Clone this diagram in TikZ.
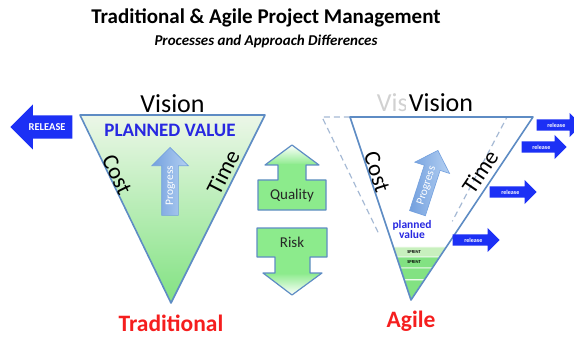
\documentclass[tikz,border=0pt]{standalone}
\usepackage{fontspec}
\setmainfont{Carlito}
\usetikzlibrary{positioning,shapes.arrows,calc}

\definecolor{edgeblue}{RGB}{94,140,196}
\definecolor{lightgreen}{RGB}{236,247,232}
\definecolor{midgreen}{RGB}{130,226,130}
\definecolor{paleband}{RGB}{200,240,190}
\definecolor{boxgreen}{RGB}{140,235,140}
\definecolor{releaseblue}{RGB}{28,48,245}
\definecolor{valueblue}{RGB}{40,40,225}
\definecolor{progblue}{RGB}{115,160,222}
\definecolor{proglight}{RGB}{180,208,242}
\definecolor{labelred}{RGB}{245,30,30}
\definecolor{ghostline}{RGB}{165,185,212}

\begin{document}
\begin{tikzpicture}[x=1pt,y=-1pt,
    tri/.style={draw=edgeblue, line width=1.6pt, line join=round},
    edgetext/.style={inner sep=1pt, font=\fontsize{23}{23}\selectfont},
    visiontext/.style={inner sep=1pt, font=\fontsize{26}{26}\selectfont},
    methodlabel/.style={inner sep=1pt, text=labelred, font=\fontsize{23.5}{24}\selectfont\bfseries},
    releasearrow/.style={single arrow, fill=releaseblue, text=white,
        font=\fontsize{6}{6}\selectfont\bfseries, single arrow head extend=6.5pt,
        inner ysep=3pt, inner xsep=2pt, text height=5pt, text depth=0pt,
        minimum height=45pt, anchor=tip},
    progressarrow/.style={single arrow, draw=progblue, line width=0.6pt,
        left color=progblue, right color=proglight, text=white,
        font=\fontsize{11.5}{11.5}\selectfont, single arrow head extend=10pt,
        inner ysep=3pt, inner xsep=2pt, text height=8pt, text depth=2pt,
        minimum height=68pt, anchor=tip},
    boxtext/.style={inner sep=1pt, text=black!85, font=\fontsize{15}{15}\selectfont}]

\useasboundingbox (0,0) rectangle (574,337);

\node[font=\fontsize{21}{24}\selectfont\bfseries] (title) at (266,18) {Traditional \& Agile Project Management};
\node[below=1pt of title, font=\fontsize{15}{16}\selectfont\bfseries\itshape] (subtitle) {Processes and Approach Differences};

\coordinate (tTL) at (80,115);
\coordinate (tTR) at (265,115);
\coordinate (tApex) at (171,303);
\coordinate (tTop) at ($(tTL)!0.5!(tTR)$);

\draw[tri, top color=lightgreen, bottom color=midgreen] (tTL) -- (tTR) -- (tApex) -- cycle;
\node[visiontext, above=1pt of tTop] (tradvision) {Vision};
\node[text=valueblue, font=\fontsize{19}{19}\selectfont\bfseries] (plannedvalue) at (170,130) {PLANNED VALUE};
\node[edgetext, rotate=-64] (tradcost) at (117,175) {Cost};
\node[edgetext, rotate=63] (tradtime) at (223,172) {Time};
\node[progressarrow, rotate=90] (tradprogress) at (170,147) {Progress};
\node[methodlabel, below=11pt of tApex] (traditional) {Traditional};

\node[releasearrow, shape border rotate=180, font=\fontsize{10.5}{10.5}\selectfont\bfseries,
    single arrow head extend=11pt, inner ysep=7.5pt, text height=8pt, minimum height=62pt] (bigrelease) at (10,127) {RELEASE};

\shade[top color=white, bottom color=boxgreen] (292,145) -- (319,165) -- (265,165) -- cycle;
\fill[boxgreen] (306,164) -- (306,180) -- (326,180) -- (326,210) -- (258,210) -- (258,180) -- (278,180) -- (278,164) -- cycle;
\draw[draw=edgeblue, line width=1.2pt, line join=round] (292,145) -- (319,165) -- (306,165) -- (306,180) -- (326,180) -- (326,210)
    -- (258,210) -- (258,180) -- (278,180) -- (278,165) -- (265,165) -- cycle;
\node[boxtext] (quality) at (292,196) {Quality};

\shade[top color=boxgreen, bottom color=white] (263,273) -- (322,273) -- (292,295) -- cycle;
\fill[boxgreen] (257,228) -- (327,228) -- (327,257) -- (310,257) -- (310,274) -- (275,274) -- (275,257) -- (257,257) -- cycle;
\draw[draw=edgeblue, line width=1.2pt, line join=round] (257,228) -- (327,228) -- (327,257) -- (310,257) -- (310,273) -- (322,273)
    -- (292,295) -- (263,273) -- (275,273) -- (275,257) -- (257,257) -- cycle;
\node[boxtext] (risk) at (292,242) {Risk};

\coordinate (aTL) at (350,117);
\coordinate (aTR) at (533,117);
\coordinate (aApex) at (411,300);
\coordinate (gTL) at (322,117);
\coordinate (gTR) at (507,117);

\fill[white] (aTL) -- (aTR) -- (aApex) -- cycle;
\draw[ghostline, dashed, line width=1.2pt, dash pattern=on 6pt off 4pt]
    ($(gTL)!0.63!(aApex)$) -- (gTL) -- (gTR) -- ($(gTR)!0.57!(aApex)$);
\foreach \ta/\tb/\col in {0.71/0.765/paleband, 0.765/0.825/midgreen, 0.825/0.89/midgreen, 0.89/1/midgreen}
    \filldraw[fill=\col, draw=white, line width=0.8pt] ($(aTL)!\ta!(aApex)$) -- ($(aTR)!\ta!(aApex)$)
        -- ($(aTR)!\tb!(aApex)$) -- ($(aTL)!\tb!(aApex)$) -- cycle;
\draw[tri] (aTL) -- (aTR) -- (aApex) -- cycle;

\node[visiontext, text=black!18] (ghostvision) at (409,103) {Vision};
\node[visiontext, fill=white, inner xsep=3pt] (agilevision) at (441,103) {Vision};
\node[edgetext, rotate=-72] (agilecost) at (377,172) {Cost};
\node[edgetext, rotate=56] (agiletime) at (480,172) {Time};
\node[progressarrow, rotate=72, minimum height=66pt] (agileprogress) at (438,150) {Progress};
\node[text=valueblue, align=center, font=\fontsize{11.5}{10}\selectfont\bfseries] (smallvalue) at (412,230) {planned\\value};
\node[inner sep=0pt, font=\fontsize{4.5}{4.5}\selectfont\bfseries] (sprintA) at (414,252) {SPRINT};
\node[inner sep=0pt, font=\fontsize{4.5}{4.5}\selectfont\bfseries] (sprintB) at (414,262.5) {SPRINT};
\node[methodlabel, below=10pt of aApex] (agile) {Agile};

\node[releasearrow] (releaseA) at (582,125) {release};
\node[releasearrow] (releaseB) at (567,147) {release};
\node[releasearrow, minimum height=47pt] (releaseC) at (537,192) {release};
\node[releasearrow, minimum height=47pt] (releaseD) at (500,240) {release};
\end{tikzpicture}
\end{document}
